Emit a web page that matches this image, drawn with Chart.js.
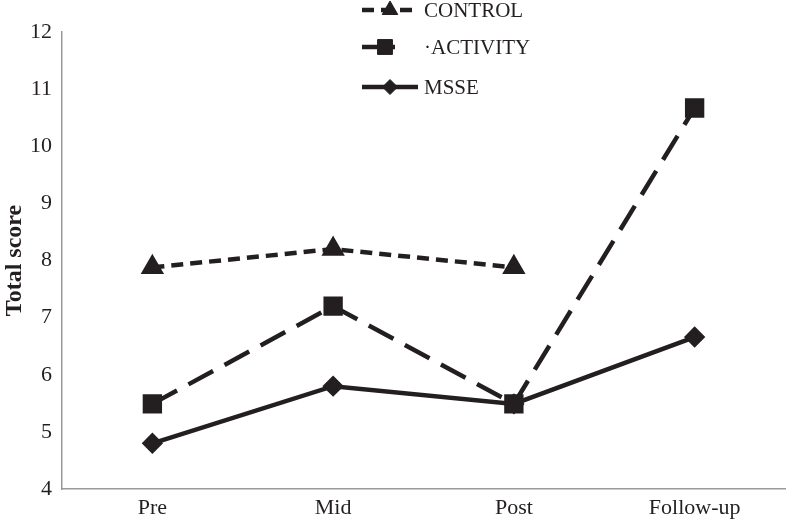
<!DOCTYPE html>
<html>
<head>
<meta charset="utf-8">
<script src="https://cdn.jsdelivr.net/npm/chart.js@4/dist/chart.umd.min.js"></script>
<style>
  html, body { margin: 0; padding: 0; background: #fff; }
  #wrap { width: 789px; height: 521px; }
</style>
</head>
<body>
<div id="wrap"><canvas id="grafik" width="789" height="521"></canvas></div>
<script>
const kategori = ["Pre", "Mid", "Post", "Follow-up"];
const dataControl = [7.88, 8.2, 7.88, null];
const dataActivity = [5.49, 7.2, 5.49, 10.67];
const dataMsse = [4.8, 5.8, 5.49, 6.66];
const labelSeri = ["CONTROL", "\u00b7ACTIVITY", "MSSE"];
const yMin = 4, yMax = 12;

const fontSerif = "'Liberation Serif', 'DejaVu Serif', serif";
const hitam = "#231f20";

// legenda vertikal digambar sendiri, menimpa area plot seperti aslinya
const legendaSendiri = {
    id: "legendaSendiri",
    afterDraw(chart) {
        const ctx = chart.ctx;
        const posY = [10, 47, 87];
        const x0 = 362, x1 = 418, xTeks = 424;
        chart.data.datasets.forEach((ds, i) => {
            const y = posY[i];
            ctx.save();
            ctx.strokeStyle = ds.borderColor;
            ctx.lineWidth = ds.borderWidth;
            ctx.setLineDash(ds.legendDash || []);
            ctx.beginPath();
            ctx.moveTo(x0, y);
            ctx.lineTo(ds.legendEnd || x1, y);
            ctx.stroke();
            ctx.setLineDash([]);
            ctx.fillStyle = ds.pointBackgroundColor;
            ctx.strokeStyle = ds.pointBorderColor;
            ctx.lineWidth = 1;
            Chart.helpers.drawPoint(ctx, {
                pointStyle: ds.pointStyle,
                radius: ds.pointRadius,
                rotation: 0,
                borderWidth: 1
            }, ds.legendPoint || 390, y);
            ctx.fillStyle = hitam;
            ctx.font = "21px " + fontSerif;
            ctx.textBaseline = "middle";
            ctx.textAlign = "left";
            ctx.fillText(labelSeri[i], xTeks, y + 1);
            ctx.restore();
        });
    }
};

const ctx = document.getElementById("grafik").getContext("2d");
new Chart(ctx, {
    type: "line",
    data: {
        labels: kategori,
        datasets: [{
            label: labelSeri[0],
            data: dataControl,
            borderColor: hitam,
            borderWidth: 4.5,
            borderDash: [12, 7],
            legendDash: [12, 7],
            pointStyle: "triangle",
            pointRadius: 9,
            pointBackgroundColor: hitam,
            pointBorderColor: hitam,
            fill: false,
            tension: 0
        }, {
            label: labelSeri[1],
            data: dataActivity,
            borderColor: hitam,
            borderWidth: 4.5,
            borderDash: [28, 13],
            legendEnd: 395,
            legendPoint: 385,
            pointStyle: "rect",
            pointRadius: 10.5,
            pointBackgroundColor: hitam,
            pointBorderColor: hitam,
            fill: false,
            tension: 0
        }, {
            label: labelSeri[2],
            data: dataMsse,
            borderColor: hitam,
            borderWidth: 4.5,
            pointStyle: "rectRot",
            pointRadius: 7.5,
            pointBackgroundColor: hitam,
            pointBorderColor: hitam,
            fill: false,
            tension: 0
        }]
    },
    options: {
        responsive: false,
        animation: false,
        layout: { autoPadding: false, padding: { top: 32, right: 4, left: 0, bottom: 0 } },
        plugins: {
            legend: { display: false },
            tooltip: { enabled: false }
        },
        scales: {
            x: {
                offset: true,
                grid: { display: false, drawTicks: false },
                border: { display: true, color: "#9a9a9a", width: 1.5 },
                ticks: {
                    color: hitam,
                    font: { family: fontSerif, size: 22 },
                    padding: 6
                },
                afterFit(scale) {
                    scale.height = 32;
                    scale.paddingLeft = 0;
                    scale.paddingRight = 0;
                }
            },
            y: {
                min: yMin,
                max: yMax,
                grid: { display: false, drawTicks: false },
                border: { display: true, color: "#9a9a9a", width: 1.5 },
                ticks: {
                    stepSize: 1,
                    color: hitam,
                    font: { family: fontSerif, size: 22 },
                    padding: 10
                },
                title: {
                    display: true,
                    text: "Total score",
                    color: hitam,
                    font: { family: fontSerif, size: 24, weight: "bold" },
                    padding: { top: 0, bottom: 2 }
                },
                afterFit(scale) { scale.width = 62; }
            }
        }
    },
    plugins: [legendaSendiri]
});
</script>
</body>
</html>
